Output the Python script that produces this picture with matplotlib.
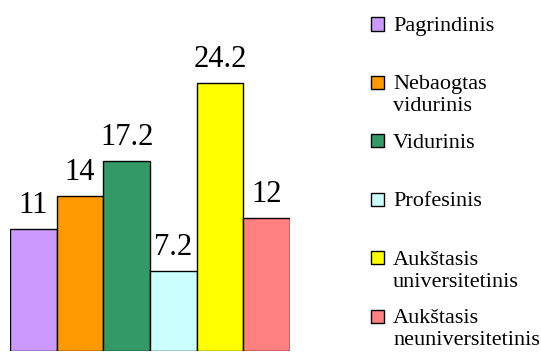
import matplotlib
matplotlib.use("Agg")
import matplotlib.pyplot as plt
from matplotlib.patches import Rectangle

categories = ["Pagrindinis", "Nebaogtas\nvidurinis", "Vidurinis", "Profesinis",
              "Aukštasis\nuniversitetinis", "Aukštasis\nneuniversitetinis"]
values = [11, 14, 17.2, 7.2, 24.2, 12]
value_labels = ["11", "14", "17.2", "7.2", "24.2", "12"]
colors = ["#CC99FF", "#FF9900", "#339966", "#CCFFFF", "#FFFF00", "#FF8080"]

plt.rcParams['font.family'] = ['Liberation Serif', 'DejaVu Serif']

W, H = 541, 354
fig = plt.figure(figsize=(W / 100, H / 100), dpi=100)
# axes: x 10..290 px, bottom at y=351 px from top
ax = fig.add_axes([10 / W, 3 / H, 280 / W, 299 / H])
x = list(range(len(values)))
ax.bar(x, values, width=1.0, color=colors, edgecolor="black", linewidth=1.0)
ax.set_xlim(-0.5, len(values) - 0.5)
ax.set_ylim(0, 27)
ax.axis("off")
for xi, v, lab in zip(x, values, value_labels):
    ax.annotate(lab, (xi, v), xytext=(0, 11.5), textcoords="offset points",
                ha="center", va="baseline", fontsize=22)

# legend, manual layout
first_baseline = 31
slot = 58.4
line_gap = 22
sq = 13
sq_x = 371
txt_x = 393
for i, (lab, col) in enumerate(zip(categories, colors)):
    base = first_baseline + i * slot
    fig.patches.append(Rectangle((sq_x / W, 1 - (base - 0.5) / H), sq / W, sq / H,
                                 transform=fig.transFigure, facecolor=col,
                                 edgecolor="black", linewidth=1.0))
    for j, line in enumerate(lab.split("\n")):
        fig.text(txt_x / W, 1 - (base + j * line_gap) / H, line,
                 ha="left", va="baseline", fontsize=16)

fig.savefig("out.png", dpi=100)
